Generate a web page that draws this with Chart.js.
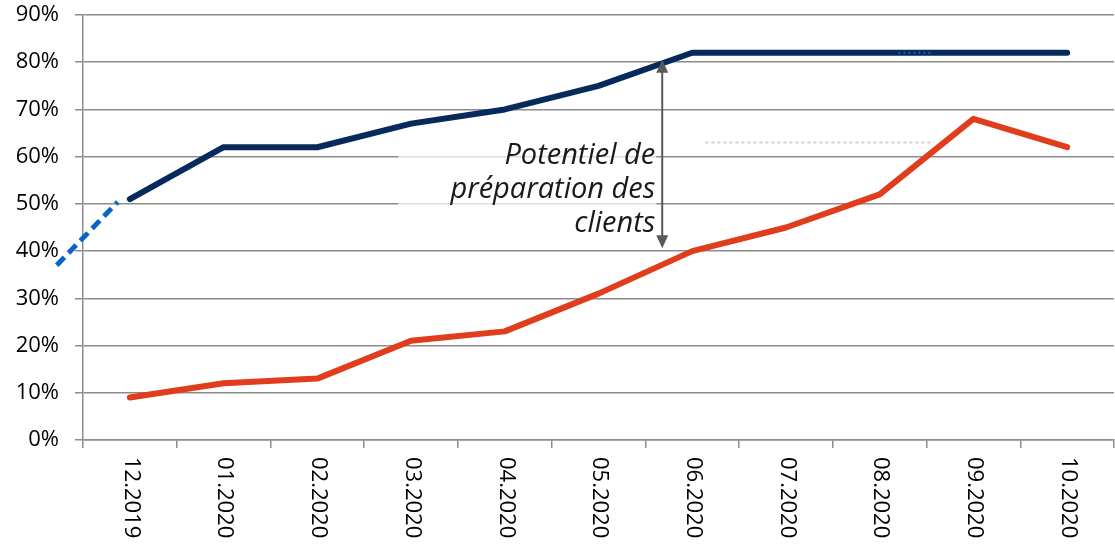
<!DOCTYPE html>
<html>
<head>
<meta charset="utf-8">
<script src="https://cdn.jsdelivr.net/npm/chart.js@4"></script>
<style>
  html, body { margin: 0; padding: 0; background: #fff; }
  #wrap { width: 1115px; height: 546px; }
</style>
</head>
<body>
<div id="wrap"><canvas id="graph1"></canvas></div>
<script>
const months = ['12.2019', '01.2020', '02.2020', '03.2020', '04.2020', '05.2020', '06.2020', '07.2020', '08.2020', '09.2020', '10.2020'];
const upper = [51, 62, 62, 67, 70, 75, 82, 82, 82, 82, 82];
const lower = [9, 12, 13, 21, 23, 31, 40, 45, 52, 68, 62];
// dashed lead-in before the first month (x as category index)
const leadX = [-0.78, -0.13];
const leadY = [37, 50.4];
// faint dotted marks left in the original
const grayDotX = [6.14, 8.58];
const grayDotY = 63;
const blueDotX = [8.2, 8.55];
const blueDotY = 82;
// arrow between the two curves
const arrowX = 5.68;
const arrowY = [80.5, 40.6];
const noteLines = ['Potentiel de', 'préparation des', 'clients'];
const yTicks = [0, 10, 20, 30, 40, 50, 60, 70, 80, 90];

const ctx = document.getElementById('graph1').getContext('2d');

const extras = {
  id: 'extras',
  afterDatasetsDraw(chart) {
    const c = chart.ctx;
    const x = chart.scales.x, y = chart.scales.y;
    c.save();

    // gray dotted
    c.strokeStyle = '#cfcfcf';
    c.lineWidth = 2;
    c.setLineDash([3, 3]);
    c.beginPath();
    c.moveTo(x.getPixelForValue(grayDotX[0]), y.getPixelForValue(grayDotY));
    c.lineTo(x.getPixelForValue(grayDotX[1]), y.getPixelForValue(grayDotY));
    c.stroke();

    // blue dotted on top line
    c.strokeStyle = '#1f5fbf';
    c.lineWidth = 2;
    c.setLineDash([2, 3]);
    c.beginPath();
    c.moveTo(x.getPixelForValue(blueDotX[0]), y.getPixelForValue(blueDotY));
    c.lineTo(x.getPixelForValue(blueDotX[1]), y.getPixelForValue(blueDotY));
    c.stroke();

    // dashed lead-in
    c.strokeStyle = '#0a64c8';
    c.lineWidth = 5;
    c.setLineDash([11, 6]);
    c.beginPath();
    c.moveTo(x.getPixelForValue(leadX[0]), y.getPixelForValue(leadY[0]));
    c.lineTo(x.getPixelForValue(leadX[1]), y.getPixelForValue(leadY[1]));
    c.stroke();
    c.setLineDash([]);

    // text box (semi transparent)
    const ax = x.getPixelForValue(arrowX);
    c.fillStyle = 'rgba(255,255,255,0.7)';
    c.fillRect(ax - 264, y.getPixelForValue(62.5), 258, y.getPixelForValue(46) - y.getPixelForValue(62.5));

    // note text
    c.fillStyle = '#1a1a1a';
    c.font = 'italic 29px "Open Sans"';
    c.textAlign = 'right';
    c.textBaseline = 'middle';
    const tx = ax - 7;
    noteLines.forEach((t, i) => c.fillText(t, tx, 156 + i * 34));

    // double arrow
    const y1 = y.getPixelForValue(arrowY[0]), y2 = y.getPixelForValue(arrowY[1]);
    c.strokeStyle = '#595959';
    c.fillStyle = '#595959';
    c.lineWidth = 2;
    c.beginPath();
    c.moveTo(ax, y1 + 10);
    c.lineTo(ax, y2 - 10);
    c.stroke();
    c.beginPath();
    c.moveTo(ax, y1);
    c.lineTo(ax - 6, y1 + 13);
    c.lineTo(ax + 6, y1 + 13);
    c.closePath();
    c.fill();
    c.beginPath();
    c.moveTo(ax, y2);
    c.lineTo(ax - 6, y2 - 13);
    c.lineTo(ax + 6, y2 - 13);
    c.closePath();
    c.fill();

    // x labels rotated clockwise
    c.fillStyle = '#000';
    c.font = '22px "Open Sans"';
    c.textAlign = 'left';
    c.textBaseline = 'middle';
    months.forEach((m, i) => {
      c.save();
      c.translate(x.getPixelForValue(i) + 1, y.bottom + 17);
      c.rotate(Math.PI / 2);
      c.fillText(m, 0, 0);
      c.restore();
    });

    c.restore();
  }
};

const data = {
  labels: months,
  datasets: [
    {
      label: 'upper',
      data: upper,
      borderColor: '#062a5c',
      borderWidth: 6,
      pointRadius: 0,
      tension: 0,
      borderCapStyle: 'round',
      borderJoinStyle: 'round'
    },
    {
      label: 'lower',
      data: lower,
      borderColor: '#e03d1c',
      borderWidth: 6,
      pointRadius: 0,
      tension: 0,
      borderCapStyle: 'round',
      borderJoinStyle: 'round'
    }
  ]
};

const options = {
  responsive: true,
  maintainAspectRatio: false,
  animation: false,
  layout: { padding: { top: 15, right: 1, left: 0, bottom: 0 } },
  plugins: { legend: { display: false }, tooltip: { enabled: false } },
  scales: {
    x: {
      offset: true,
      grid: { offset: true, drawOnChartArea: false, drawTicks: true, tickLength: 8, color: '#8c8c8c', lineWidth: 1.5 },
      border: { color: '#8c8c8c', width: 1.5 },
      ticks: { display: false },
      afterFit: s => { s.height = 106; }
    },
    y: {
      min: 0,
      max: 90,
      afterBuildTicks: s => { s.ticks = yTicks.map(v => ({ value: v })); },
      grid: { color: '#8c8c8c', lineWidth: 1.5, tickLength: 8 },
      border: { color: '#8c8c8c', width: 1.5 },
      ticks: {
        padding: 16,
        color: '#000',
        font: { family: 'Open Sans', size: 22 },
        callback: v => v + '%'
      },
      afterFit: s => { s.width = 83; s.paddingTop = 0; s.paddingBottom = 0; }
    }
  }
};

const chart = new Chart(ctx, { type: 'line', data: data, options: options, plugins: [extras] });
</script>
</body>
</html>
